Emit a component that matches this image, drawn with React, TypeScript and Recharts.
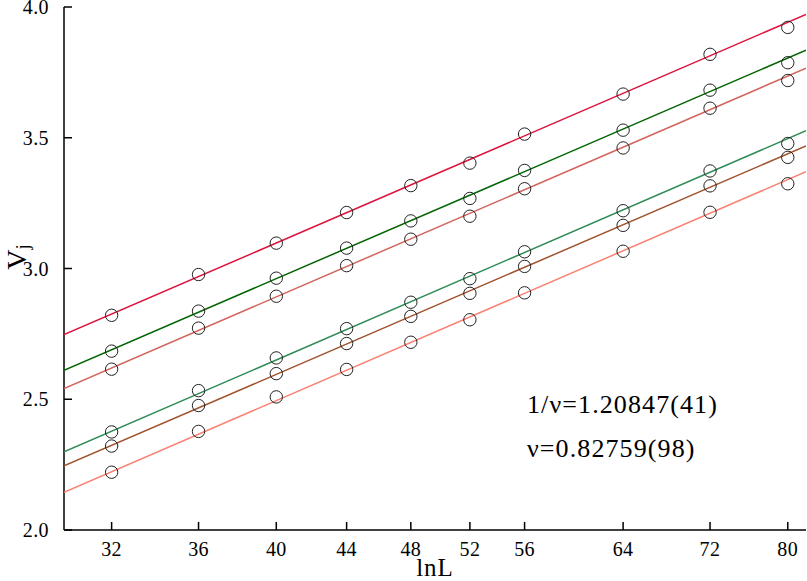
import React from 'react';
import { ComposedChart, Scatter, XAxis, YAxis } from 'recharts';

const sizes = [32, 36, 40, 44, 48, 52, 56, 64, 72, 80];
const xTicks = [32, 36, 40, 44, 48, 52, 56, 64, 72, 80];
const yTicks = [2.0, 2.5, 3.0, 3.5, 4.0];

const series1 = [2.821, 2.977, 3.097, 3.214, 3.317, 3.403, 3.514, 3.667, 3.819, 3.922];
const series2 = [2.684, 2.837, 2.963, 3.078, 3.182, 3.268, 3.375, 3.529, 3.682, 3.787];
const series3 = [2.615, 2.772, 2.894, 3.011, 3.112, 3.2, 3.305, 3.461, 3.613, 3.719];
const series4 = [2.375, 2.533, 2.658, 2.77, 2.871, 2.961, 3.064, 3.221, 3.373, 3.478];
const series5 = [2.321, 2.476, 2.598, 2.713, 2.817, 2.905, 3.008, 3.165, 3.316, 3.425];
const series6 = [2.221, 2.377, 2.509, 2.614, 2.718, 2.804, 2.907, 3.066, 3.215, 3.324];

const fitL = [30, 82];
const fit1 = [2.747, 3.972];
const fit2 = [2.611, 3.835];
const fit3 = [2.541, 3.766];
const fit4 = [2.299, 3.527];
const fit5 = [2.245, 3.469];
const fit6 = [2.144, 3.37];

const colors = ['#dc143c', '#006400', '#d2655d', '#2e8b57', '#a0522d', '#fa8072'];

const allSeries = [series1, series2, series3, series4, series5, series6];
const allFits = [fit1, fit2, fit3, fit4, fit5, fit6];

const toPts = (xs: number[], ys: number[]) => xs.map((x, i) => ({ L: x, v: ys[i] }));

const FONT = '"Liberation Serif", "Times New Roman", serif';
const TICK_LEN = 8;
const MARGIN = 14;

const BottomTick = (p: any) => {
  const axisY = p.y - MARGIN;
  return (
    <g>
      <line x1={p.x} x2={p.x} y1={axisY} y2={axisY - TICK_LEN} stroke="#000" strokeWidth={1.5} />
      <text x={p.x} y={p.y} dy={12} textAnchor="middle" fontFamily={FONT} fontSize={20} letterSpacing={0.4} fill="#000">
        {p.payload.value}
      </text>
    </g>
  );
};

const LeftTick = (p: any) => {
  const axisX = p.x + MARGIN;
  return (
    <g>
      <line x1={axisX} x2={axisX + TICK_LEN} y1={p.y} y2={p.y} stroke="#000" strokeWidth={1.5} />
      <text x={p.x - 1} y={p.y} dy={7} textAnchor="end" fontFamily={FONT} fontSize={20} letterSpacing={0.4} fill="#000">
        {Number(p.payload.value).toFixed(1)}
      </text>
    </g>
  );
};

const TopTick = (p: any) => (
  <line x1={p.x} x2={p.x} y1={p.y} y2={p.y + TICK_LEN} stroke="#000" strokeWidth={1.5} />
);

const RightTick = (p: any) => (
  <line x1={p.x} x2={p.x - TICK_LEN} y1={p.y} y2={p.y} stroke="#000" strokeWidth={1.5} />
);

const Ring = (p: any) => (
  <circle cx={p.cx} cy={p.cy} r={6.2} fill="none" stroke="#222" strokeWidth={1} />
);
const NoShape = () => <g />;

export default function App() {
  return (
    <div style={{ position: 'absolute', left: 0, top: 0, width: 807, height: 581, background: '#fff' }}>
      <ComposedChart width={807} height={581} margin={{ top: 7, right: 1, bottom: 0, left: 0 }}>
        <XAxis
          xAxisId="b"
          dataKey="L"
          type="number"
          scale="log"
          domain={[30, 82]}
          allowDataOverflow
          ticks={xTicks}
          height={51}
          orientation="bottom"
          tickSize={0}
          tickMargin={MARGIN}
          axisLine={{ stroke: '#000', strokeWidth: 1.5 }}
          tickLine={false}
          tick={BottomTick}
          interval={0}
        />
        <XAxis
          xAxisId="t"
          dataKey="L"
          type="number"
          scale="log"
          domain={[30, 82]}
          allowDataOverflow
          ticks={xTicks}
          height={0}
          orientation="top"
          tickSize={0}
          tickMargin={0}
          tick={TopTick}
          interval={0}
          axisLine={{ stroke: '#000', strokeWidth: 1.5 }}
          tickLine={false}
        />
        <YAxis
          yAxisId="l"
          dataKey="v"
          type="number"
          domain={[2, 4]}
          allowDataOverflow
          ticks={yTicks}
          width={64}
          orientation="left"
          tickSize={0}
          tickMargin={MARGIN}
          interval={0}
          axisLine={{ stroke: '#000', strokeWidth: 1.5 }}
          tickLine={false}
          tick={LeftTick}
        />
        <YAxis
          yAxisId="r"
          dataKey="v"
          type="number"
          domain={[2, 4]}
          allowDataOverflow
          ticks={yTicks}
          width={0}
          orientation="right"
          tickSize={0}
          tickMargin={0}
          interval={0}
          tick={RightTick}
          axisLine={{ stroke: '#000', strokeWidth: 1.5 }}
          tickLine={false}
        />
        {allFits.map((f, i) => (
          <Scatter
            key={'fit' + i}
            xAxisId="b"
            yAxisId="l"
            data={toPts(fitL, f)}
            dataKey="v"
            fill={colors[i]}
            line={{ stroke: colors[i], strokeWidth: 1.5 }}
            shape={NoShape}
            isAnimationActive={false}
          />
        ))}
        {allSeries.map((s, i) => (
          <Scatter
            key={'pts' + i}
            xAxisId="b"
            yAxisId="l"
            data={toPts(sizes, s)}
            dataKey="v"
            fill="none"
            shape={Ring}
            isAnimationActive={false}
          />
        ))}
      </ComposedChart>
      <svg
        width={807}
        height={581}
        style={{ position: 'absolute', left: 0, top: 0, pointerEvents: 'none', overflow: 'hidden' }}
      >
        <text
          transform="translate(26,257) rotate(-90)"
          textAnchor="middle"
          fontFamily={FONT}
          fill="#000"
        >
          <tspan fontSize={28}>V</tspan>
          <tspan fontSize={19} dy={3}>j</tspan>
        </text>
        <text x={435} y={576} textAnchor="middle" fontFamily={FONT} fontSize={25} letterSpacing={1} fill="#000">
          lnL
        </text>
        <text x={527} y={413} fontFamily={FONT} fontSize={26} letterSpacing={1.1} fill="#000">
          1/ν=1.20847(41)
        </text>
        <text x={527} y={457} fontFamily={FONT} fontSize={26} letterSpacing={1.1} fill="#000">
          ν=0.82759(98)
        </text>
      </svg>
    </div>
  );
}
